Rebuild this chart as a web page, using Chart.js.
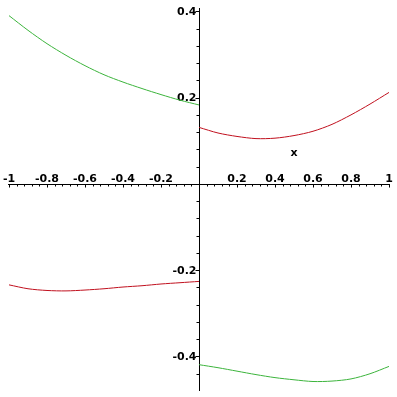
<!DOCTYPE html>
<html>
<head>
<meta charset="utf-8">
<script src="https://cdn.jsdelivr.net/npm/chart.js@4/dist/chart.umd.min.js"></script>
<style>
  html, body { margin: 0; padding: 0; background: #fff; }
  #plot { display: block; }
</style>
</head>
<body>
<canvas id="plot" width="397" height="397"></canvas>
<script>
// x positions of the sampled points
const xLeft  = [-1, -0.9, -0.8, -0.7, -0.6, -0.5, -0.4, -0.3, -0.2, -0.1, 0];
const xRight = [0, 0.1, 0.2, 0.3, 0.4, 0.5, 0.6, 0.7, 0.8, 0.9, 1];

// curves
const greenUpper = [0.390, 0.356, 0.325, 0.298, 0.274, 0.253, 0.236, 0.221, 0.207, 0.194, 0.183];
const redLower   = [-0.234, -0.243, -0.247, -0.248, -0.246, -0.243, -0.239, -0.236, -0.232, -0.229, -0.226];
const redUpper   = [0.131, 0.118, 0.110, 0.105, 0.106, 0.112, 0.122, 0.138, 0.160, 0.185, 0.212];
const greenLower = [-0.419, -0.426, -0.434, -0.442, -0.449, -0.454, -0.458, -0.457, -0.452, -0.440, -0.423];

// axis ticks
const xTicks = [-1, -0.8, -0.6, -0.4, -0.2, 0.2, 0.4, 0.6, 0.8, 1];
const xTickLabels = ['-1', '-0.8', '-0.6', '-0.4', '-0.2', '0.2', '0.4', '0.6', '0.8', '1'];
const yTicks = [0.4, 0.2, -0.2, -0.4];
const yTickLabels = ['0.4', '0.2', '-0.2', '-0.4'];
const minorStep = 0.04;

const GREEN = '#3cb43c';
const RED = '#c0101e';

const toPoints = (xs, ys) => xs.map((x, i) => ({ x: x, y: ys[i] }));

// axes through the origin, Maple style
const crossAxes = {
    id: 'crossAxes',
    beforeDatasetsDraw(chart) {
        const ctx = chart.ctx;
        const sx = chart.scales.x, sy = chart.scales.y;
        const ox = Math.round(sx.getPixelForValue(0)) + 0.5;
        const oy = Math.round(sy.getPixelForValue(0)) + 0.5;
        const area = chart.chartArea;

        ctx.save();
        ctx.strokeStyle = '#000';
        ctx.lineWidth = 1;
        ctx.beginPath();
        ctx.moveTo(area.left - 1, oy);
        ctx.lineTo(area.right + 1, oy);
        ctx.moveTo(ox, area.top + 1);
        ctx.lineTo(ox, area.bottom);
        ctx.stroke();

        // minor ticks
        ctx.beginPath();
        for (let v = -1; v <= 1.0001; v += minorStep) {
            const px = Math.round(sx.getPixelForValue(v)) + 0.5;
            ctx.moveTo(px, oy);
            ctx.lineTo(px, oy + 2);
        }
        for (let v = -0.44; v <= 0.41; v += minorStep) {
            const py = Math.round(sy.getPixelForValue(v)) + 0.5;
            ctx.moveTo(ox, py);
            ctx.lineTo(ox - 3, py);
        }
        // major ticks
        xTicks.forEach(v => {
            const px = Math.round(sx.getPixelForValue(v)) + 0.5;
            ctx.moveTo(px, oy);
            ctx.lineTo(px, oy + 3);
        });
        yTicks.forEach(v => {
            const py = Math.round(sy.getPixelForValue(v)) + 0.5;
            ctx.moveTo(ox, py);
            ctx.lineTo(ox - 4, py);
        });
        ctx.stroke();

        ctx.fillStyle = '#000';
        ctx.font = 'bold 11px "DejaVu Sans", sans-serif';
        ctx.textAlign = 'center';
        ctx.textBaseline = 'alphabetic';
        xTicks.forEach((v, i) => {
            ctx.fillText(xTickLabels[i], sx.getPixelForValue(v), oy - 3);
        });
        ctx.textAlign = 'right';
        ctx.textBaseline = 'middle';
        yTicks.forEach((v, i) => {
            ctx.fillText(yTickLabels[i], ox - 3, sy.getPixelForValue(v) + 1);
        });
        ctx.textAlign = 'center';
        ctx.fillText('x', sx.getPixelForValue(0.5), sy.getPixelForValue(0.072));
        ctx.restore();
    }
};

const lineStyle = { showLine: true, pointRadius: 0, borderWidth: 1, tension: 0.3, fill: false };

new Chart(document.getElementById('plot'), {
    type: 'scatter',
    data: {
        datasets: [
            { ...lineStyle, data: toPoints(xLeft, greenUpper), borderColor: GREEN },
            { ...lineStyle, data: toPoints(xLeft, redLower), borderColor: RED },
            { ...lineStyle, data: toPoints(xRight, redUpper), borderColor: RED },
            { ...lineStyle, data: toPoints(xRight, greenLower), borderColor: GREEN }
        ]
    },
    options: {
        responsive: false,
        animation: false,
        devicePixelRatio: 1,
        layout: { padding: { left: 9, right: 8, top: 7, bottom: 6 } },
        plugins: { legend: { display: false }, tooltip: { enabled: false } },
        scales: {
            x: { type: 'linear', min: -1, max: 1, display: false },
            y: { type: 'linear', min: -0.48, max: 0.41, display: false }
        }
    },
    plugins: [crossAxes]
});
</script>
</body>
</html>
